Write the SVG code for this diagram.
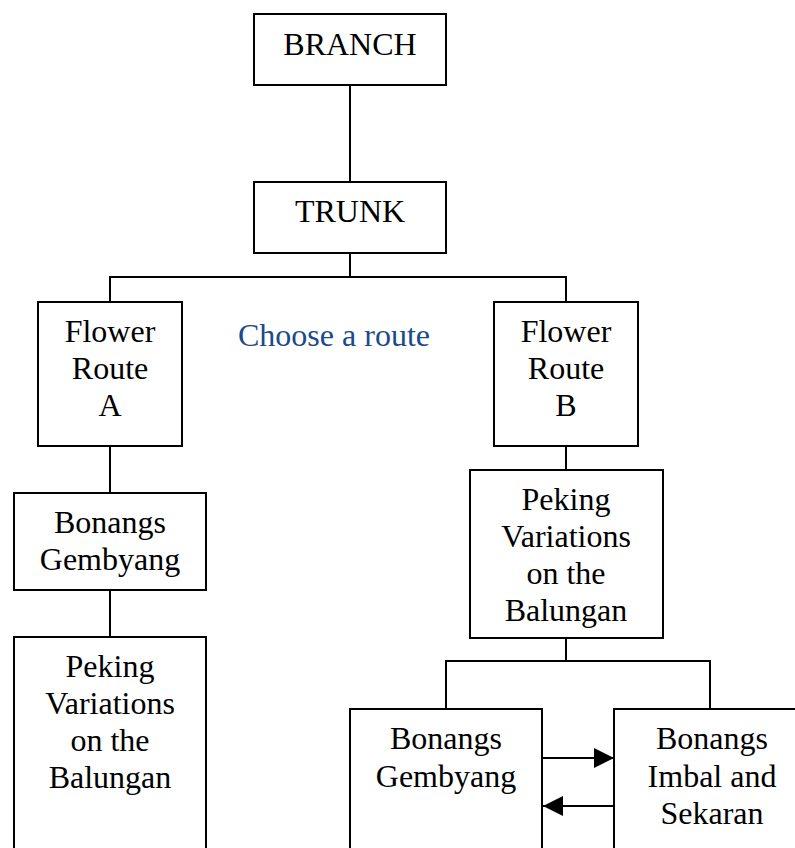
<svg xmlns="http://www.w3.org/2000/svg" width="795" height="848" viewBox="0 0 795 848">
<style>
.box{fill:#fff;stroke:#000;stroke-width:2}
.ln{fill:none;stroke:#000;stroke-width:2}
text{font-family:"Liberation Serif","Times New Roman",serif;font-size:32px;fill:#000;text-anchor:middle}
.blue{fill:#1a4a8a}
</style>
<defs>
<marker id="ah" markerWidth="10" markerHeight="10" refX="10" refY="5" orient="auto" markerUnits="userSpaceOnUse" viewBox="0 0 10 10">
<path d="M0,0 L10,5 L0,10 Z" fill="#000"/>
</marker>
</defs>
<rect width="795" height="848" fill="#fff"/>
<g id="connectors">
<line class="ln" x1="350" y1="85" x2="350" y2="182"/>
<polyline class="ln" points="350,253 350,277"/>
<polyline class="ln" points="110,302 110,277 566,277 566,302"/>
<line class="ln" x1="110" y1="446" x2="110" y2="493"/>
<line class="ln" x1="110" y1="590" x2="110" y2="637"/>
<line class="ln" x1="566" y1="446" x2="566" y2="470"/>
<line class="ln" x1="566" y1="638" x2="566" y2="661"/>
<polyline class="ln" points="446,709 446,661 710,661 710,709"/>
<line x1="542" y1="758" x2="614" y2="758" stroke="#000" stroke-width="2"/>
<path d="M594,748 L614,758 L594,768 Z" fill="#000"/>
<line x1="614" y1="806" x2="542" y2="806" stroke="#000" stroke-width="2"/>
<path d="M563,796 L543,806 L563,816 Z" fill="#000"/>
</g>
<g id="branch">
<rect class="box" x="254" y="14" width="192" height="71"/>
<text x="350" y="55">BRANCH</text>
</g>
<g id="trunk">
<rect class="box" x="254" y="182" width="192" height="71"/>
<text x="350" y="222">TRUNK</text>
</g>
<g id="routeA">
<rect class="box" x="38" y="302" width="144" height="144"/>
<text x="110" y="342">Flower</text>
<text x="110" y="379">Route</text>
<text x="110" y="416">A</text>
</g>
<g id="choose">
<text class="blue" x="334" y="346">Choose a route</text>
</g>
<g id="routeB">
<rect class="box" x="494" y="302" width="144" height="144"/>
<text x="566" y="342">Flower</text>
<text x="566" y="379">Route</text>
<text x="566" y="416">B</text>
</g>
<g id="gembyangA">
<rect class="box" x="14" y="493" width="192" height="97"/>
<text x="110" y="533">Bonangs</text>
<text x="110" y="570">Gembyang</text>
</g>
<g id="pekingA">
<rect class="box" x="14" y="637" width="192" height="230"/>
<text x="110" y="677">Peking</text>
<text x="110" y="714">Variations</text>
<text x="110" y="751">on the</text>
<text x="110" y="788">Balungan</text>
</g>
<g id="pekingB">
<rect class="box" x="470" y="470" width="193" height="168"/>
<text x="566" y="510">Peking</text>
<text x="566" y="547">Variations</text>
<text x="566" y="584">on the</text>
<text x="566" y="621">Balungan</text>
</g>
<g id="gembyangB">
<rect class="box" x="350" y="709" width="192" height="160"/>
<text x="446" y="749">Bonangs</text>
<text x="446" y="787">Gembyang</text>
</g>
<g id="imbal">
<rect class="box" x="614" y="709" width="192" height="160"/>
<text x="712" y="749">Bonangs</text>
<text x="712" y="787">Imbal and</text>
<text x="712" y="824">Sekaran</text>
</g>
</svg>
